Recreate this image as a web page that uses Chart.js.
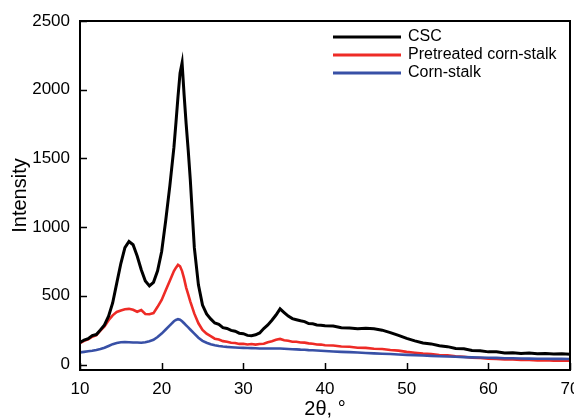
<!DOCTYPE html>
<html>
<head>
<meta charset="utf-8">
<script src="https://cdn.jsdelivr.net/npm/chart.js@4.4.1/dist/chart.umd.min.js"></script>
<style>
  body { margin: 0; background: #fff; }
  canvas { display: block; }
</style>
</head>
<body>
<canvas id="xrd-chart" width="574" height="419"></canvas>
<script>
// XRD patterns: CSC vs pretreated corn-stalk vs raw corn-stalk
const angles = [
  10, 10.5, 11, 11.5, 12, 12.5, 13, 13.5, 14, 14.5, 15, 15.5, 16, 16.5, 17, 17.5, 18, 18.5, 19, 19.5,
  20, 20.5, 21, 21.5, 21.75, 22, 22.25, 22.5, 22.75, 23, 23.25, 23.5, 24, 24.5, 25, 25.5, 26, 26.5, 27, 27.5,
  28, 28.5, 29, 29.5, 30, 30.5, 31, 31.5, 32, 32.5, 33, 33.5, 34, 34.5, 35, 35.5, 36, 36.5, 37, 37.5,
  38, 38.5, 39, 39.5, 40, 41, 42, 43, 44, 45, 46, 47, 48, 49, 50, 51, 52, 53, 54, 55,
  56, 57, 58, 59, 60, 61, 62, 63, 64, 65, 66, 67, 68, 69, 70
];
const csc = [
  160, 178, 188, 210, 218, 252, 288, 352, 448, 592, 735, 850, 895, 872, 790, 690, 608, 572, 598, 682,
  822, 1050, 1300, 1580, 1760, 1950, 2120, 2195, 1960, 1750, 1560, 1350, 850, 580, 432, 368, 332, 302, 292, 268,
  262, 248, 242, 228, 224, 212, 210, 216, 230, 262, 288, 322, 360, 405, 378, 352, 334, 326, 318, 312,
  298, 296, 288, 286, 282, 280, 268, 266, 260, 264, 260, 250, 232, 212, 190, 172, 156, 150, 136, 130,
  116, 114, 102, 100, 92, 92, 84, 86, 80, 84, 78, 80, 76, 78, 74
];
const pretreated = [
  155, 172, 183, 202, 214, 247, 278, 322, 358, 382, 393, 402, 405, 398, 384, 396, 368, 366, 374, 420,
  470, 540, 610, 680, 705, 725, 715, 680, 625, 560, 510, 460, 370, 300, 252, 224, 206, 188, 182, 170,
  166, 158, 157, 150, 151, 146, 149, 145, 149, 151, 162, 169, 180, 186, 177, 173, 166, 166, 160, 159,
  154, 151, 146, 145, 140, 138, 131, 129, 122, 121, 115, 113, 106, 101, 92, 86, 79, 77, 69, 67,
  59, 57, 49, 47, 43, 41, 37, 37, 33, 33, 30, 31, 28, 29, 28
];
const cornStalk = [
  88, 92, 96, 100, 106, 113, 122, 135, 148, 157, 162, 163, 162, 160, 160, 158, 162, 170, 180, 200,
  225, 255, 285, 315, 324, 330, 326, 315, 300, 285, 270, 255, 225, 195, 172, 158, 147, 140, 135, 131,
  128, 126, 124, 122, 121, 120, 119, 118, 117, 116, 116, 116, 116, 117, 115, 113, 111, 110, 108, 107,
  105, 104, 102, 100, 98, 95, 92, 90, 87, 84, 81, 78, 76, 73, 70, 68, 65, 63, 60, 58,
  56, 54, 52, 51, 49, 48, 46, 45, 44, 43, 42, 42, 41, 41, 40
];
const seriesLabels = ['CSC', 'Pretreated corn-stalk', 'Corn-stalk'];
const xTicks = [10, 20, 30, 40, 50, 60, 70];
const yTicks = [0, 500, 1000, 1500, 2000, 2500];

const colors = ['#000000', '#ee2b26', '#3850a6'];
const seriesValues = [csc, pretreated, cornStalk];

const toPoints = vals => angles.map((a, i) => ({ x: a, y: vals[i] }));

// frame, inward tick marks, legend in the top-right corner
const framePlugin = {
  id: 'frame',
  afterDraw(chart) {
    const { ctx, chartArea: a, scales } = chart;
    ctx.save();
    ctx.strokeStyle = '#000';
    ctx.lineWidth = 2;
    ctx.strokeRect(a.left, a.top, a.right - a.left, a.bottom - a.top);
    ctx.lineWidth = 1.5;
    ctx.beginPath();
    xTicks.forEach(t => {
      const px = Math.round(scales.x.getPixelForValue(t)) + 0.5;
      ctx.moveTo(px, a.bottom);
      ctx.lineTo(px, a.bottom - 7);
    });
    yTicks.forEach(t => {
      const py = Math.round(scales.y.getPixelForValue(t)) + 0.5;
      ctx.moveTo(a.left, py);
      ctx.lineTo(a.left + 7, py);
    });
    ctx.stroke();

    ctx.font = '16px "Liberation Sans", Arial, sans-serif';
    ctx.textBaseline = 'middle';
    ctx.fillStyle = '#000';
    chart.data.datasets.forEach((ds, i) => {
      const y = 37 + i * 18;
      ctx.strokeStyle = ds.borderColor;
      ctx.lineWidth = 3;
      ctx.beginPath();
      ctx.moveTo(333, y);
      ctx.lineTo(401, y);
      ctx.stroke();
      ctx.fillText(ds.label, 408, y);
    });
    ctx.restore();
  }
};

const ctx = document.getElementById('xrd-chart').getContext('2d');
new Chart(ctx, {
  type: 'line',
  data: {
    datasets: seriesLabels.map((label, i) => ({
      label: label,
      data: toPoints(seriesValues[i]),
      borderColor: colors[i],
      borderWidth: i === 0 ? 3 : 2.6,
      pointRadius: 0,
      tension: 0,
      fill: false,
      order: [0, 2, 1][i]
    }))
  },
  options: {
    responsive: false,
    animation: false,
    layout: { padding: { top: 21, right: 4, left: 0, bottom: 0 } },
    plugins: {
      legend: { display: false },
      tooltip: { enabled: false }
    },
    scales: {
      x: {
        type: 'linear',
        min: 10,
        max: 70,
        afterBuildTicks: s => { s.ticks = xTicks.map(v => ({ value: v })); },
        afterFit: s => { s.height = 49; s.paddingLeft = 0; s.paddingRight = 0; },
        grid: { display: false, drawTicks: false },
        border: { display: false },
        ticks: {
          padding: 9,
          color: '#000',
          maxRotation: 0,
          callback: v => String(v),
          font: { family: '"Liberation Sans", Arial, sans-serif', size: 17 }
        },
        title: {
          display: true,
          text: '2θ, °',
          color: '#000',
          padding: 0,
          font: { family: '"Liberation Sans", Arial, sans-serif', size: 20, lineHeight: 1 }
        }
      },
      y: {
        min: -40,
        max: 2500,
        afterBuildTicks: s => { s.ticks = yTicks.map(v => ({ value: v })); },
        afterFit: s => { s.width = 80; s.paddingTop = 0; s.paddingBottom = 0; },
        grid: { display: false, drawTicks: false },
        border: { display: false },
        ticks: {
          padding: 10,
          color: '#000',
          callback: v => String(v),
          font: { family: '"Liberation Sans", Arial, sans-serif', size: 17 }
        },
        title: {
          display: true,
          text: 'Intensity',
          color: '#000',
          padding: { top: 10, bottom: 0 },
          font: { family: '"Liberation Sans", Arial, sans-serif', size: 20, lineHeight: 1 }
        }
      }
    }
  },
  plugins: [framePlugin]
});
</script>
</body>
</html>
